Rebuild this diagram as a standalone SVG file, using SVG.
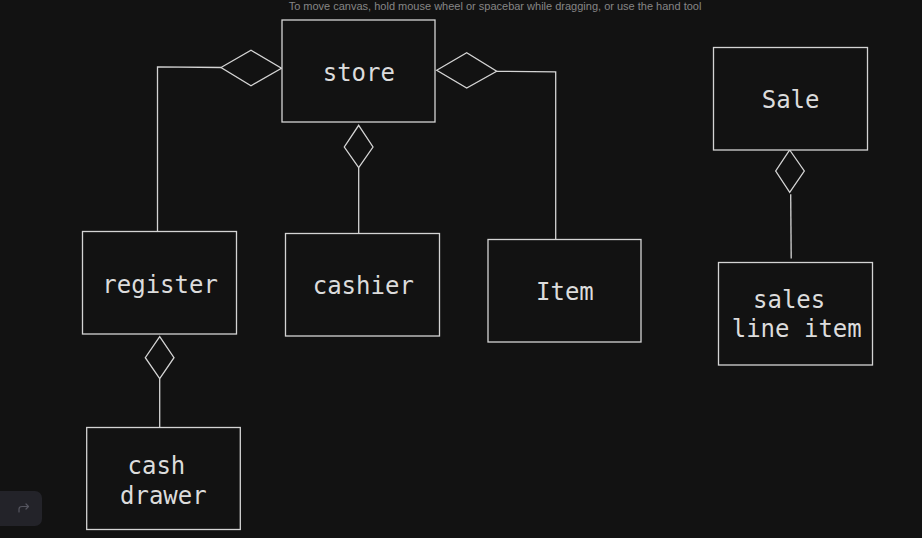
<svg xmlns="http://www.w3.org/2000/svg" width="922" height="538" viewBox="0 0 922 538">
<style>
.bg{fill:#121212}
.box{fill:#121212;stroke:#d4d4d4;stroke-width:1.3}
.ln{fill:none;stroke:#d4d4d4;stroke-width:1.3}
.dia{fill:#121212;stroke:#d4d4d4;stroke-width:1.3;stroke-linejoin:miter}
.lbl{font-family:"DejaVu Sans Mono","Liberation Mono",monospace;font-size:24px;fill:#dcdcdc}
.hint{font-family:"Liberation Sans","Noto Sans",sans-serif;font-size:11px;fill:#868686}
</style>
<rect class="bg" x="0" y="0" width="922" height="538"/>
<text class="hint" x="495" y="10" text-anchor="middle">To move canvas, hold mouse wheel or spacebar while dragging, or use the hand tool</text>
<g id="connectors">
  <polyline class="ln" points="221,67.5 157.5,66.8 157.5,231.5"/>
  <polygon class="dia" points="221,67.5 251,50.3 281.5,68.2 251,85.7"/>
  <polyline class="ln" points="496.7,71.3 555.7,71.8 555.7,239.5"/>
  <polygon class="dia" points="436.7,70.3 466.7,52.7 496.7,71.3 466.7,88"/>
  <line class="ln" x1="358.7" y1="167.7" x2="358.7" y2="233.5"/>
  <polygon class="dia" points="358.7,125.3 373,147 358.7,167.7 344.3,147"/>
  <line class="ln" x1="159.7" y1="378.7" x2="159.7" y2="427.5"/>
  <polygon class="dia" points="159.7,336.7 174,357.7 159.7,378.7 145.3,357.7"/>
  <line class="ln" x1="790.7" y1="194.3" x2="791.2" y2="258.5"/>
  <polygon class="dia" points="789.7,150 804.3,171 789.7,192.3 775.7,171"/>
</g>
<g id="store">
  <rect class="box" x="282" y="20" width="153" height="102"/>
  <text class="lbl" x="322.7" y="81">store</text>
</g>
<g id="register">
  <rect class="box" x="82.5" y="231.5" width="154" height="102.5"/>
  <text class="lbl" x="102.3" y="292.5">register</text>
</g>
<g id="cashier">
  <rect class="box" x="285.5" y="233.5" width="154" height="102.5"/>
  <text class="lbl" x="312.7" y="294">cashier</text>
</g>
<g id="item">
  <rect class="box" x="488" y="239.5" width="153" height="102.5"/>
  <text class="lbl" x="536" y="300">Item</text>
</g>
<g id="cash-drawer">
  <rect class="box" x="86.7" y="427.5" width="153.6" height="102"/>
  <text class="lbl" x="127.5" y="474.3">cash</text>
  <text class="lbl" x="120" y="504.3">drawer</text>
</g>
<g id="sale">
  <rect class="box" x="713.5" y="47.5" width="154" height="102.5"/>
  <text class="lbl" x="761.7" y="108.3">Sale</text>
</g>
<g id="sales-line-item">
  <rect class="box" x="718.5" y="262.5" width="154" height="102.5"/>
  <text class="lbl" x="753" y="308.3">sales</text>
  <text class="lbl" x="731.7" y="337.3">line item</text>
</g>
<g id="redo-button">
  <rect x="-8" y="491" width="50" height="35" rx="7" fill="#232329"/>
  <path d="M19,512 L19,509 Q19,506.5 22,506.5 L28.5,506.5 M26,504 L28.5,506.5 L26,509" fill="none" stroke="#55555f" stroke-width="1.2" stroke-linecap="round" stroke-linejoin="round"/>
</g>
</svg>
